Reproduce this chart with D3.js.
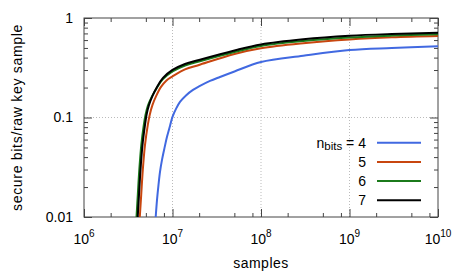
<!DOCTYPE html>
<html>
  <head>
    <meta charset="utf-8">
    <title>Secure bits per raw key sample</title>
    <script src="https://cdn.jsdelivr.net/npm/d3@7"></script>
    <style>
      body { margin: 0; background: #fff; }
      svg { font-family: "Liberation Sans", Arial, sans-serif; }
      .tick line { stroke: #444; }
      .grid { stroke: #bbb; stroke-dasharray: 1,2; }
      .curve { fill: none; stroke-width: 2; }
    </style>
  </head>

  <body>
    <svg id="chart" width="463" height="278"></svg>

    <script>
      // data: [samples, secure bits per raw key sample]
      bits4 = [[6.459e6, 0.01], [6.682e6, 0.01488], [6.947e6, 0.02105], [7.224e6, 0.02843],
        [7.609e6, 0.03753], [8.122e6, 0.0495], [8.667e6, 0.0639], [9.37e6, 0.0823],
        [1e7, 0.1014], [1.095e7, 0.122], [1.215e7, 0.1434], [1.42e7, 0.1667],
        [1.704e7, 0.1893], [1.993e7, 0.2052], [2.653e7, 0.2331], [3.44e7, 0.2556],
        [5.02e7, 0.2903], [1e8, 0.3616], [3e8, 0.4182], [1e9, 0.4773], [3e9, 0.4998], [1e10, 0.5196]];
      bits5 = [[4.27e6, 0.01], [4.43e6, 0.0167], [4.618e6, 0.0298], [4.89e6, 0.0531],
        [5.26e6, 0.0843], [5.526e6, 0.1062], [5.943e6, 0.1338], [6.545e6, 0.1648],
        [7.413e6, 0.2029], [8.55e6, 0.236], [1e7, 0.2586], [1.384e7, 0.3041],
        [1.993e7, 0.3374], [5.02e7, 0.435], [1e8, 0.4963], [3e8, 0.557],
        [1e9, 0.6083], [3e9, 0.64], [1e10, 0.6595]];
      bits6 = [[3.92e6, 0.01], [4.055e6, 0.0167], [4.216e6, 0.0298], [4.442e6, 0.0531],
        [4.741e6, 0.0843], [4.954e6, 0.1062], [5.287e6, 0.1322], [5.821e6, 0.161],
        [6.596e6, 0.196], [7.75e6, 0.2413], [1e7, 0.2903], [1.384e7, 0.3335],
        [1.993e7, 0.366], [5.02e7, 0.4556], [1e8, 0.5234], [3e8, 0.5875],
        [1e9, 0.637], [3e9, 0.6657], [1e10, 0.6877]];
      bits7 = [[4.045e6, 0.01], [4.182e6, 0.0167], [4.348e6, 0.0298], [4.581e6, 0.0531],
        [4.89e6, 0.0843], [5.085e6, 0.106], [5.426e6, 0.1338], [5.943e6, 0.1648],
        [6.682e6, 0.2029], [7.81e6, 0.2497], [1e7, 0.3005], [1.384e7, 0.3452],
        [1.993e7, 0.3788], [5.02e7, 0.4718], [1e8, 0.5419], [3e8, 0.611],
        [1e9, 0.663], [3e9, 0.691], [1e10, 0.712]];

      seriesNames = ["4", "5", "6", "7"];
      seriesColors = ["#4169e1", "#c8460f", "#1b7a1b", "#000000"];
      seriesData = [bits4, bits5, bits6, bits7];

      xMajor = [1e6, 1e7, 1e8, 1e9, 1e10];
      xExponents = ["6", "7", "8", "9", "10"];
      xMinorSteps = [2, 5, 8];
      yMajor = [0.01, 0.1, 1];
      yLabels = ["0.01", "0.1", "1"];
      yMinorSteps = [2, 3, 4, 5, 6, 7, 8, 9];

      // elements
      chart = d3.select("#chart");
      margin = { top: 18, right: 25, bottom: 61, left: 84 };
      width = 463;
      height = 278;

      x = d3.scaleLog()
        .domain([1e6, 1e10])
        .range([margin.left, width - margin.right]);
      y = d3.scaleLog()
        .domain([0.01, 1])
        .range([height - margin.bottom, margin.top]);

      minors = (major, steps) => major.slice(0, -1)
        .flatMap(m => steps.map(k => k * m));
      xMinor = minors(xMajor, xMinorSteps);
      yMinor = minors(yMajor, yMinorSteps);

      // grid
      chart.append("g")
        .selectAll("line")
        .data(xMajor.slice(1, -1))
        .join("line")
          .attr("class", "grid")
          .attr("x1", d => x(d)).attr("x2", d => x(d))
          .attr("y1", y.range()[0]).attr("y2", y.range()[1]);
      chart.append("g")
        .selectAll("line")
        .data(yMajor.slice(1, -1))
        .join("line")
          .attr("class", "grid")
          .attr("y1", d => y(d)).attr("y2", d => y(d))
          .attr("x1", x.range()[0]).attr("x2", x.range()[1]);

      // ticks on all four sides, pointing inward
      function ticks(axisFn, scale, values, size, transform) {
        chart.append("g")
          .attr("transform", transform)
          .call(axisFn(scale).tickValues(values).tickSizeInner(-size).tickSizeOuter(0).tickFormat(""))
          .call(g => g.select(".domain").remove());
      }
      bottomT = "translate(0," + y.range()[0] + ")";
      topT = "translate(0," + y.range()[1] + ")";
      leftT = "translate(" + x.range()[0] + ",0)";
      rightT = "translate(" + x.range()[1] + ",0)";
      ticks(d3.axisBottom, x, xMajor, 8, bottomT);
      ticks(d3.axisBottom, x, xMinor, 4, bottomT);
      ticks(d3.axisTop, x, xMajor, 8, topT);
      ticks(d3.axisTop, x, xMinor, 4, topT);
      ticks(d3.axisLeft, y, yMajor, 8, leftT);
      ticks(d3.axisLeft, y, yMinor, 4, leftT);
      ticks(d3.axisRight, y, yMajor, 8, rightT);
      ticks(d3.axisRight, y, yMinor, 4, rightT);

      // frame
      chart.append("rect")
        .attr("x", x.range()[0])
        .attr("y", y.range()[1])
        .attr("width", x.range()[1] - x.range()[0])
        .attr("height", y.range()[0] - y.range()[1])
        .attr("fill", "none")
        .attr("stroke", "#444");

      // tick labels
      xText = chart.append("g")
        .selectAll("text")
        .data(xMajor)
        .join("text")
          .attr("x", d => x(d))
          .attr("y", 244)
          .attr("text-anchor", "middle")
          .attr("font-size", 14);
      xText.append("tspan").text("10");
      xText.append("tspan")
        .attr("dy", -7)
        .attr("font-size", 10)
        .text((d, i) => xExponents[i]);

      chart.append("g")
        .selectAll("text")
        .data(yMajor)
        .join("text")
          .attr("x", x.range()[0] - 11)
          .attr("y", d => y(d))
          .attr("dy", "0.35em")
          .attr("text-anchor", "end")
          .attr("font-size", 14)
          .text((d, i) => yLabels[i]);

      // axis titles
      chart.append("text")
        .attr("x", (x.range()[0] + x.range()[1]) / 2)
        .attr("y", 268)
        .attr("text-anchor", "middle")
        .attr("font-size", 14)
        .attr("letter-spacing", 0.5)
        .text("samples");
      chart.append("text")
        .attr("transform", "translate(22," + (y.range()[0] + y.range()[1]) / 2 + ") rotate(-90)")
        .attr("text-anchor", "middle")
        .attr("font-size", 14)
        .attr("letter-spacing", 0.7)
        .text("secure bits/raw key sample");

      // curves
      chart.append("clipPath")
        .attr("id", "plotClip")
        .append("rect")
          .attr("x", x.range()[0])
          .attr("y", y.range()[1])
          .attr("width", x.range()[1] - x.range()[0])
          .attr("height", y.range()[0] - y.range()[1]);

      line = d3.line()
        .x(d => x(d[0]))
        .y(d => y(d[1]))
        .curve(d3.curveCatmullRom.alpha(0.5));

      chart.append("g")
        .attr("clip-path", "url(#plotClip)")
        .selectAll("path")
        .data(seriesData)
        .join("path")
          .attr("class", "curve")
          .attr("stroke", (d, i) => seriesColors[i])
          .attr("d", line);

      // legend
      legend = chart.append("g");
      rows = legend.selectAll("g")
        .data(seriesNames)
        .join("g")
          .attr("transform", (d, i) => "translate(0," + (142.7 + i * 19.2) + ")");
      rows.append("line")
        .attr("x1", 377).attr("x2", 421)
        .attr("stroke", (d, i) => seriesColors[i])
        .attr("stroke-width", 2);
      labels = rows.append("text")
        .attr("x", 366)
        .attr("dy", "0.35em")
        .attr("text-anchor", "end")
        .attr("font-size", 14);
      labels.filter((d, i) => i == 0)
        .call(t => {
          t.append("tspan").text("n");
          t.append("tspan").attr("dy", 2.5).attr("font-size", 11.5).text("bits");
          t.append("tspan").attr("dy", -2.5).text(" = ");
        });
      labels.append("tspan").text(d => d);
    </script>
  </body>
</html>
